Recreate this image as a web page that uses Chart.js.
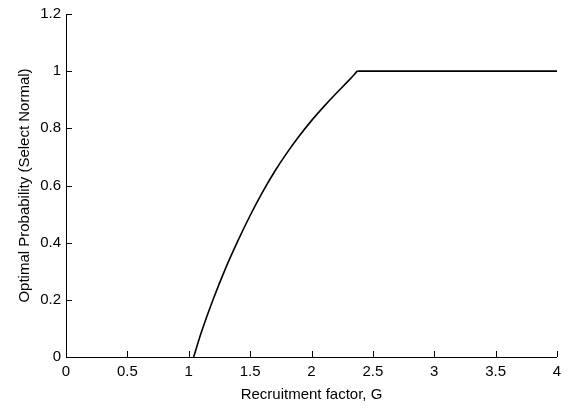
<!DOCTYPE html>
<html>
<head>
<meta charset="utf-8">
<script src="https://cdn.jsdelivr.net/npm/chart.js@4"></script>
<style>
html,body{margin:0;padding:0;background:#fff;}
#wrap{width:574px;height:416px;position:relative;}
</style>
</head>
<body>
<div id="wrap"><canvas id="c" width="574" height="416"></canvas></div>
<script>
// Data
const curveG = [1.04, 1.10, 1.20, 1.30, 1.40, 1.50, 1.60, 1.70, 1.80, 1.90, 2.00, 2.10, 2.20, 2.30, 2.373];
const curveP = [0.00, 0.083, 0.203, 0.310, 0.406, 0.495, 0.576, 0.649, 0.714, 0.773, 0.827, 0.876, 0.922, 0.966, 1.00];
const plateauG = [2.373, 4.0];
const plateauP = [1.00, 1.00];
const xTicks = [0, 0.5, 1, 1.5, 2, 2.5, 3, 3.5, 4];
const yTicks = [0, 0.2, 0.4, 0.6, 0.8, 1, 1.2];
const xTitle = 'Recruitment factor, G';
const yTitle = 'Optimal Probability (Select Normal)';

const font = {family: '"Liberation Sans", Arial, Helvetica, sans-serif', size: 15};

const toPts = (xs, ys) => xs.map((x, i) => ({x: x, y: ys[i]}));

const inwardTicks = {
  id: 'inwardTicks',
  afterDraw(chart) {
    const ctx = chart.ctx;
    const xs = chart.scales.x, ys = chart.scales.y;
    const a = chart.chartArea;
    ctx.save();
    ctx.strokeStyle = '#000';
    ctx.lineWidth = 1;
    ctx.beginPath();
    ctx.moveTo(a.left + 0.5, a.top);
    ctx.lineTo(a.left + 0.5, a.bottom + 0.5);
    ctx.lineTo(a.right, a.bottom + 0.5);
    xTicks.forEach(v => {
      const px = Math.round(xs.getPixelForValue(v)) + 0.5;
      ctx.moveTo(px, a.bottom);
      ctx.lineTo(px, a.bottom - 6);
    });
    yTicks.forEach(v => {
      const py = Math.round(ys.getPixelForValue(v)) + 0.5;
      ctx.moveTo(a.left, py);
      ctx.lineTo(a.left + 6, py);
    });
    ctx.stroke();
    ctx.restore();
  }
};

new Chart(document.getElementById('c'), {
  type: 'scatter',
  data: {
    datasets: [
      {data: toPts(curveG, curveP), showLine: true, borderColor: '#000', borderWidth: 1.6,
       pointRadius: 0, cubicInterpolationMode: 'monotone', fill: false},
      {data: toPts(plateauG, plateauP), showLine: true, borderColor: '#000', borderWidth: 1.6,
       pointRadius: 0, fill: false}
    ]
  },
  options: {
    responsive: false,
    animation: false,
    layout: {padding: {left: 0, right: 17, top: 13, bottom: 0}},
    plugins: {legend: {display: false}, tooltip: {enabled: false}},
    scales: {
      x: {
        type: 'linear', min: 0, max: 4,
        afterBuildTicks: s => { s.ticks = xTicks.map(v => ({value: v})); },
        afterFit: s => { s.height = 59; },
        border: {display: false},
        grid: {display: false, drawTicks: false},
        ticks: {color: '#000', font: font, padding: 6, maxRotation: 0, autoSkip: false,
                callback: v => String(v)},
        title: {display: true, text: xTitle, color: '#000', font: font, padding: {top: 0, bottom: 12}}
      },
      y: {
        type: 'linear', min: 0, max: 1.2,
        afterBuildTicks: s => { s.ticks = yTicks.map(v => ({value: v})); },
        afterFit: s => { s.width = 66; },
        border: {display: false},
        grid: {display: false, drawTicks: false},
        ticks: {color: '#000', font: font, padding: 5, autoSkip: false,
                callback: v => String(v)},
        title: {display: true, text: yTitle, color: '#000', font: font, padding: {top: 16, bottom: 0}}
      }
    }
  },
  plugins: [inwardTicks]
});
</script>
</body>
</html>
